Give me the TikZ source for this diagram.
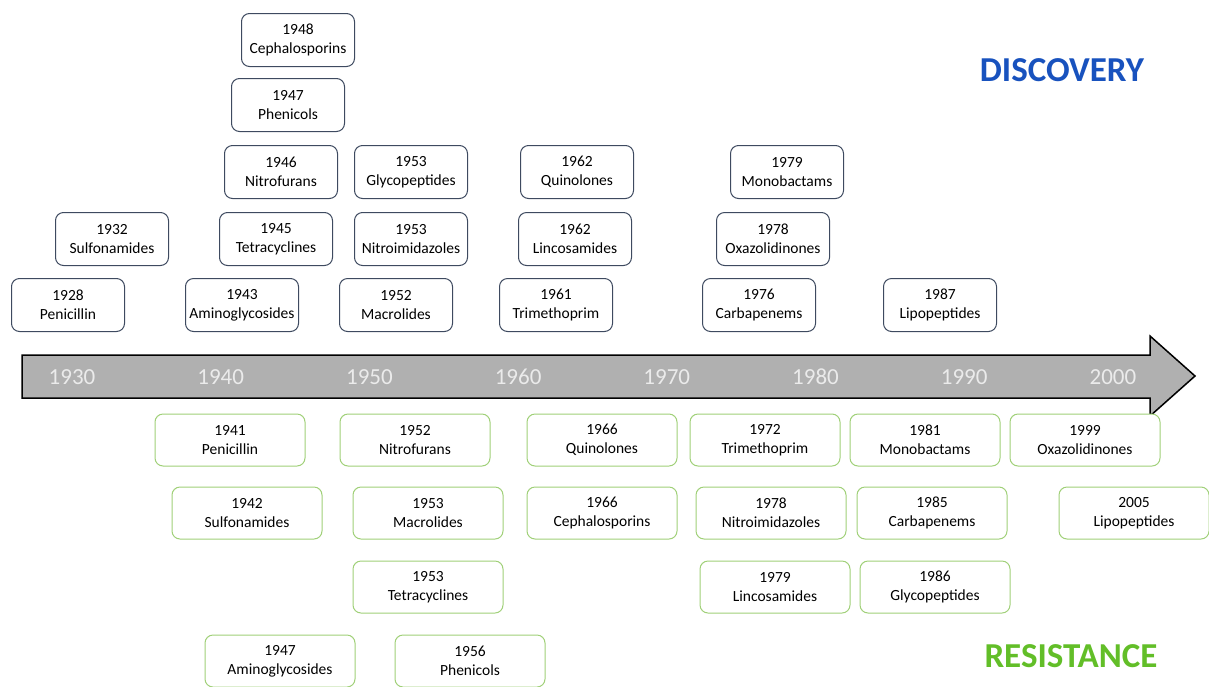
\documentclass[tikz,border=0pt]{standalone}
\usepackage{fontspec}
\setmainfont{Carlito}
\usetikzlibrary{positioning}
\definecolor{discblue}{RGB}{24,82,190}
\definecolor{resgreen}{RGB}{98,190,40}
\definecolor{boxline}{RGB}{62,74,96}
\definecolor{resline}{RGB}{160,208,120}
\definecolor{axisgray}{RGB}{176,176,176}
\tikzset{
  disc/.style={draw=boxline, fill=white, rounded corners=8pt, line width=1pt, minimum width=113pt, minimum height=53pt, align=center, inner sep=1pt, font=\fontsize{15.5}{19}\selectfont},
  res/.style={draw=resline, fill=white, rounded corners=8pt, line width=1pt, minimum width=150pt, minimum height=52pt, align=center, inner sep=1pt, font=\fontsize{15.5}{19}\selectfont},
  yr/.style={text=white!92!black, font=\fontsize{23}{26}\selectfont},
  head/.style={font=\fontsize{35}{40}\selectfont\bfseries},
}
\begin{document}
\begin{tikzpicture}[x=1pt, y=-1pt]
\useasboundingbox (0,0) rectangle (1209,686);
% time axis
\draw[fill=axisgray, line width=1.5pt, line join=miter]
  (22,355) -- (1150,355) -- (1150,336) -- (1195,376) -- (1150,416) -- (1150,398) -- (22,398) -- cycle;
\foreach \y [count=\i from 0] in {1930,1940,1950,1960,1970,1980,1990,2000}
  \node[yr] (y\y) at (72+148.7*\i,377) {\y};
% discovery
\node[disc] (d48) at (298,40) {1948\\Cephalosporins};
\node[disc] (d47) at (288,105) {1947\\Phenicols};
\node[disc] (d46) at (281,172) {1946\\Nitrofurans};
\node[disc] (d53g) at (411,172) {1953\\Glycopeptides};
\node[disc] (d62q) at (577,172) {1962\\Quinolones};
\node[disc] (d79) at (787,172) {1979\\Monobactams};
\node[disc] (d32) at (112,239) {1932\\Sulfonamides};
\node[disc] (d45) at (276,239) {1945\\Tetracyclines};
\node[disc] (d53n) at (411,239) {1953\\Nitroimidazoles};
\node[disc] (d62l) at (575,239) {1962\\Lincosamides};
\node[disc] (d78) at (773,239) {1978\\Oxazolidinones};
\node[disc] (d28) at (68,305) {1928\\Penicillin};
\node[disc] (d43) at (242,305) {1943\\Aminoglycosides};
\node[disc] (d52) at (396,305) {1952\\Macrolides};
\node[disc] (d61) at (556,305) {1961\\Trimethoprim};
\node[disc] (d76) at (759,305) {1976\\Carbapenems};
\node[disc] (d87) at (940,305) {1987\\Lipopeptides};
% resistance
\node[res] (r41) at (230,440) {1941\\Penicillin};
\node[res] (r52) at (415,440) {1952\\Nitrofurans};
\node[res] (r66q) at (602,440) {1966\\Quinolones};
\node[res] (r72) at (765,440) {1972\\Trimethoprim};
\node[res] (r81) at (925,440) {1981\\Monobactams};
\node[res] (r99) at (1085,440) {1999\\Oxazolidinones};
\node[res] (r42) at (247,513) {1942\\Sulfonamides};
\node[res] (r53m) at (428,513) {1953\\Macrolides};
\node[res] (r66c) at (602,513) {1966\\Cephalosporins};
\node[res] (r78) at (771,513) {1978\\Nitroimidazoles};
\node[res] (r85) at (932,513) {1985\\Carbapenems};
\node[res] (r05) at (1134,513) {2005\\Lipopeptides};
\node[res] (r53t) at (428,587) {1953\\Tetracyclines};
\node[res] (r79) at (775,587) {1979\\Lincosamides};
\node[res] (r86) at (935,587) {1986\\Glycopeptides};
\node[res] (r47) at (280,661) {1947\\Aminoglycosides};
\node[res] (r56) at (470,661) {1956\\Phenicols};
% titles
\node[head, text=discblue] (disctitle) at (1062,70) {DISCOVERY};
\node[head, text=resgreen] (restitle) at (1071,656) {RESISTANCE};
\end{tikzpicture}
\end{document}
